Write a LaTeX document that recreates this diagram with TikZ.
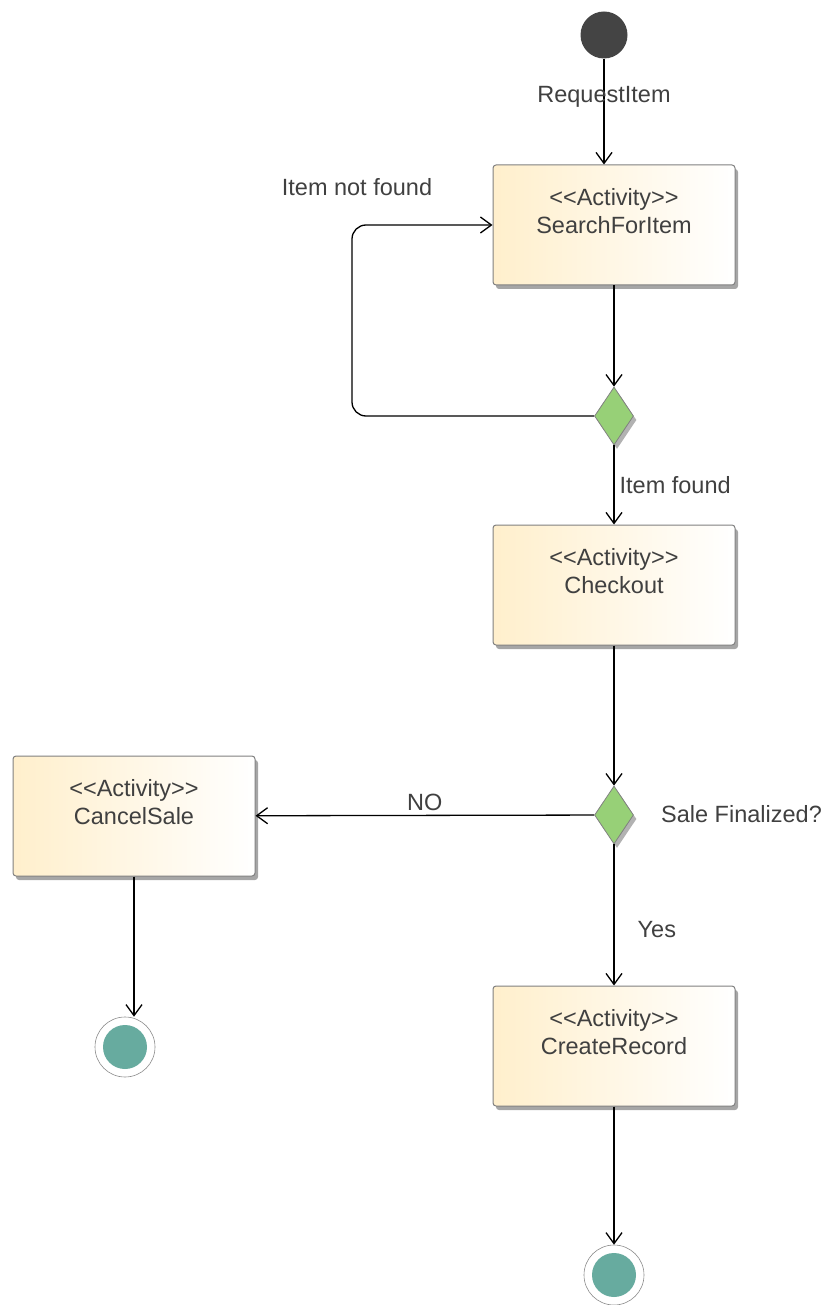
\documentclass[tikz,border=0pt]{standalone}
\usepackage{fontspec}
\setmainfont{Liberation Sans}
\usetikzlibrary{arrows.meta,shapes.geometric,shadows}
\definecolor{actFill}{RGB}{255,239,204}
\definecolor{actLine}{RGB}{128,128,128}
\definecolor{decFill}{RGB}{151,208,119}
\definecolor{endFill}{RGB}{103,171,159}
\definecolor{txtGray}{RGB}{64,64,64}
\definecolor{startFill}{RGB}{68,68,68}

\begin{document}
\begin{tikzpicture}[x=1pt, y=-1pt, font=\fontsize{23.5}{28}\selectfont, text=txtGray,
      act/.style={rounded corners=3pt, draw=actLine, line width=1pt, left color=actFill, right color=white,
        minimum width=242pt, minimum height=120pt, align=center,
        drop shadow={shadow xshift=3pt, shadow yshift=-4pt, fill=black!35, opacity=1}},
      decision/.style={diamond, draw=actLine, line width=0.8pt, fill=decFill, inner sep=0pt,
        minimum width=39pt, minimum height=58pt,
        drop shadow={shadow xshift=3pt, shadow yshift=-4pt, fill=black!30, opacity=1}},
      initial/.style={circle, fill=startFill, minimum size=47pt, inner sep=0pt},
      finalring/.style={circle, draw=black!45, line width=0.6pt, fill=white, minimum size=60pt, inner sep=0pt},
      finaldot/.style={circle, fill=endFill, minimum size=44pt, inner sep=0pt},
      lbl/.style={inner sep=3pt},
      edge/.style={line width=1.3pt, draw=black, -{Straight Barb[length=11pt, width=16pt, line width=1.3pt]}}]
    \useasboundingbox (0,0) rectangle (826,1305);
    % nodes
    \node[initial] (init) at (604,35) {};
    \node[act] (search) at (614,225) {<{}<Activity>{}>\\SearchForItem\\~};
    \node[decision] (dec1) at (614,416) {};
    \node[act] (checkout) at (614,585) {<{}<Activity>{}>\\Checkout\\~};
    \node[decision] (dec2) at (614,815) {};
    \node[act] (cancel) at (134,816) {<{}<Activity>{}>\\CancelSale\\~};
    \node[act] (create) at (614,1046) {<{}<Activity>{}>\\CreateRecord\\~};
    \node[finalring] (final1) at (125,1047) {};
    \node[finaldot] (final1dot) at (final1) {};
    \node[finalring] (final2) at (614,1275) {};
    \node[finaldot] (final2dot) at (final2) {};
    \node[lbl] (notfound) at (357,187) {Item not found};
    \node[lbl, anchor=west] (salefin) at (658,814) {Sale Finalized?};
    \coordinate (loopc) at (352,416);
    % flows
    \draw[edge] (init) -- node[lbl, pos=0.36] {RequestItem} (init |- search.north);
    \draw[edge] (search) -- (dec1);
    \draw[edge, rounded corners=14pt] (dec1.west) -- (loopc) |- (search.west);
    \draw[edge] (dec1) -- node[lbl, midway, right=2pt] {Item found} (checkout);
    \draw[edge] (checkout) -- (dec2);
    \draw[edge] (dec2) -- node[lbl, midway, above=1pt] {NO} (cancel);
    \draw[edge] (dec2) -- node[lbl, pos=0.6, right=20pt] {Yes} (create);
    \draw[edge] (cancel.south) -- (cancel.south |- final1.north);
    \draw[edge] (create) -- (final2);
\end{tikzpicture}
\end{document}
